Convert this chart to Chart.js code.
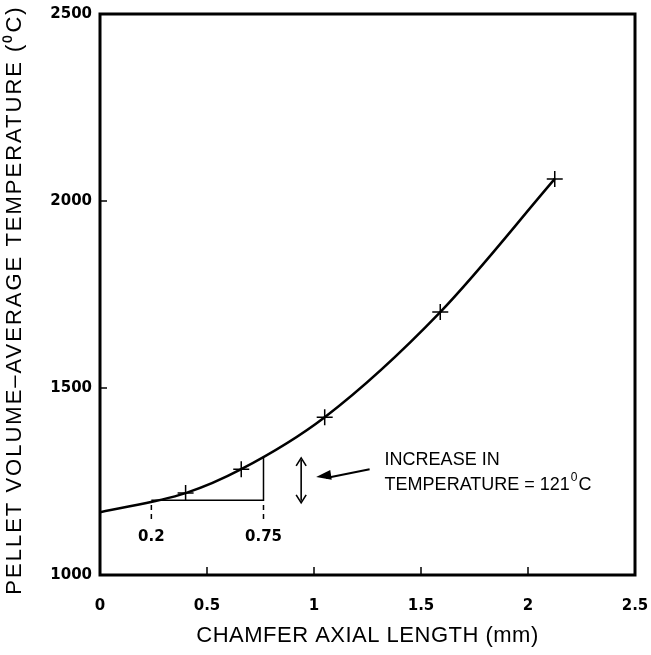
<!DOCTYPE html>
<html>
<head>
<meta charset="utf-8">
<script src="https://cdn.jsdelivr.net/npm/chart.js@4.4.1/dist/chart.umd.min.js"></script>
<style>
  html, body { margin: 0; padding: 0; background: #fff; }
  #wrap { width: 651px; height: 655px; }
</style>
</head>
<body>
<div id="wrap"><canvas id="chamferChart" width="651" height="655"></canvas></div>
<script>
// values
const chamferLength = [0, 0.40, 0.66, 1.05, 1.59, 2.125];
const avgTemperature = [1168, 1219, 1283, 1422, 1703, 2059];
const markerShown = [false, true, true, true, true, true];

// the 0.2 -> 0.75 step drawn under the curve
const stepX = [0.24, 0.764, 0.764];
const stepT = [1200, 1200, 1316];
const dropTop = 1187, dropBottom = 1142;
const stepLabels = ['0.2', '0.75'];
const stepLabelT = 1102;

// double arrow + pointer + note
const bracketX = 0.94, bracketT = [1193, 1313];
const pointerFrom = [1.26, 1283], pointerTo = [1.01, 1262];
const noteX = 1.33;
const noteLines = ['INCREASE IN', 'TEMPERATURE = 121'];
const noteT = [1307, 1241];

const xTicks = [0, 0.5, 1, 1.5, 2, 2.5];
const yTicks = [1000, 1500, 2000, 2500];
const xTitle = 'CHAMFER AXIAL LENGTH (mm)';
const yTitle = 'PELLET VOLUME\u2013AVERAGE TEMPERATURE (\u2070C)';

const curveData = chamferLength.map((x, i) => ({ x: x, y: avgTemperature[i] }));
const stepData = stepX.map((x, i) => ({ x: x, y: stepT[i] }));

function arrowHead(ctx, x1, y1, x2, y2, len, half) {
    const a = Math.atan2(y2 - y1, x2 - x1);
    ctx.beginPath();
    ctx.moveTo(x2, y2);
    ctx.lineTo(x2 - len * Math.cos(a) + half * Math.sin(a), y2 - len * Math.sin(a) - half * Math.cos(a));
    ctx.lineTo(x2 - len * Math.cos(a) - half * Math.sin(a), y2 - len * Math.sin(a) + half * Math.cos(a));
    ctx.closePath();
}

const paperPlugin = {
    id: 'paper',
    afterDraw(chart) {
        const { ctx, chartArea: ca, scales: { x, y } } = chart;
        ctx.save();
        ctx.strokeStyle = '#000';
        ctx.fillStyle = '#000';

        // frame
        ctx.lineWidth = 3;
        ctx.strokeRect(ca.left, ca.top, ca.right - ca.left, ca.bottom - ca.top);

        // inward ticks
        ctx.lineWidth = 1.5;
        xTicks.slice(1, -1).forEach(v => {
            const px = x.getPixelForValue(v);
            ctx.beginPath(); ctx.moveTo(px, ca.bottom); ctx.lineTo(px, ca.bottom - 8); ctx.stroke();
        });
        yTicks.slice(1, -1).forEach(v => {
            const py = y.getPixelForValue(v);
            ctx.beginPath(); ctx.moveTo(ca.left, py); ctx.lineTo(ca.left + 7, py); ctx.stroke();
        });

        // step labels
        ctx.font = 'bold 15px "DejaVu Sans"';
        ctx.textAlign = 'center';
        ctx.textBaseline = 'middle';
        stepLabels.forEach((t, i) => {
            ctx.fillText(t, x.getPixelForValue(stepX[i]), y.getPixelForValue(stepLabelT));
        });

        // double arrow
        const bx = x.getPixelForValue(bracketX);
        const b0 = y.getPixelForValue(bracketT[0]);
        const b1 = y.getPixelForValue(bracketT[1]);
        ctx.lineWidth = 1.6;
        ctx.beginPath(); ctx.moveTo(bx, b0 - 2); ctx.lineTo(bx, b1 + 2); ctx.stroke();
        [[b1 + 8, b1], [b0 - 8, b0]].forEach(([from, to]) => {
            ctx.beginPath();
            ctx.moveTo(bx - 5, from); ctx.lineTo(bx, to); ctx.lineTo(bx + 5, from);
            ctx.stroke();
        });

        // pointer arrow
        const p1x = x.getPixelForValue(pointerFrom[0]), p1y = y.getPixelForValue(pointerFrom[1]);
        const p2x = x.getPixelForValue(pointerTo[0]), p2y = y.getPixelForValue(pointerTo[1]);
        ctx.lineWidth = 2;
        ctx.beginPath(); ctx.moveTo(p1x, p1y); ctx.lineTo(p2x + 10, p2y + 1); ctx.stroke();
        arrowHead(ctx, p1x, p1y, p2x, p2y, 15, 5);
        ctx.fill();

        // note text
        ctx.font = '18px "Liberation Sans", Arial, sans-serif';
        ctx.textAlign = 'left';
        ctx.textBaseline = 'middle';
        const nx = x.getPixelForValue(noteX);
        noteLines.forEach((t, i) => {
            ctx.fillText(t, nx, y.getPixelForValue(noteT[i]));
        });
        const last = y.getPixelForValue(noteT[1]);
        let w = nx + ctx.measureText(noteLines[1]).width;
        ctx.font = '12px "Liberation Sans", Arial, sans-serif';
        ctx.fillText('0', w + 1, last - 7);
        w += ctx.measureText('0').width + 1;
        ctx.font = '18px "Liberation Sans", Arial, sans-serif';
        ctx.fillText('C', w + 1, last);

        // axis titles
        ctx.font = '22px "Liberation Sans", Arial, sans-serif';
        ctx.textAlign = 'center';
        ctx.letterSpacing = '0.5px';
        ctx.fillText(xTitle, (x.getPixelForValue(0) + x.getPixelForValue(2.5)) / 2, 636);
        ctx.translate(15, 300);
        ctx.rotate(-Math.PI / 2);
        ctx.letterSpacing = '2px';
        ctx.fillText(yTitle, 0, 0);
        ctx.restore();
    }
};

new Chart(document.getElementById('chamferChart'), {
    type: 'line',
    data: {
        datasets: [{
            data: curveData,
            borderColor: '#000',
            borderWidth: 2.5,
            cubicInterpolationMode: 'monotone',
            pointStyle: 'cross',
            pointRadius: markerShown.map(s => s ? 8 : 0),
            pointBorderWidth: 1.5,
            pointBorderColor: '#000',
            fill: false
        }, {
            data: stepData,
            borderColor: '#000',
            borderWidth: 1.5,
            pointRadius: 0,
            tension: 0,
            fill: false
        }, {
            data: [{ x: stepX[0], y: dropTop }, { x: stepX[0], y: dropBottom }],
            borderColor: '#000',
            borderWidth: 1.5,
            borderDash: [5, 4],
            pointRadius: 0,
            fill: false
        }, {
            data: [{ x: stepX[1], y: dropTop }, { x: stepX[1], y: dropBottom }],
            borderColor: '#000',
            borderWidth: 1.5,
            borderDash: [5, 4],
            pointRadius: 0,
            fill: false
        }]
    },
    options: {
        responsive: false,
        animation: false,
        events: [],
        layout: { padding: { left: 0, top: 14, right: 16, bottom: 0 } },
        plugins: { legend: { display: false }, tooltip: { enabled: false } },
        scales: {
            x: {
                type: 'linear',
                min: 0,
                max: 2.5,
                afterBuildTicks: s => { s.ticks = xTicks.map(v => ({ value: v })); },
                afterFit: s => { s.height = 80; s.paddingRight = 0; s.paddingLeft = 0; },
                grid: { display: false, drawTicks: false },
                border: { display: false },
                ticks: {
                    color: '#000',
                    padding: 22,
                    maxRotation: 0,
                    font: { family: 'DejaVu Sans', size: 15, weight: 'bold' },
                    callback: v => String(v)
                }
            },
            y: {
                type: 'linear',
                min: 1000,
                max: 2500,
                afterBuildTicks: s => { s.ticks = yTicks.map(v => ({ value: v })); },
                afterFit: s => { s.width = 100; s.paddingTop = 0; s.paddingBottom = 0; },
                grid: { display: false, drawTicks: false },
                border: { display: false },
                ticks: {
                    color: '#000',
                    padding: 8,
                    font: { family: 'DejaVu Sans', size: 15, weight: 'bold' },
                    callback: v => String(v)
                }
            }
        }
    },
    plugins: [paperPlugin]
});
</script>
</body>
</html>
